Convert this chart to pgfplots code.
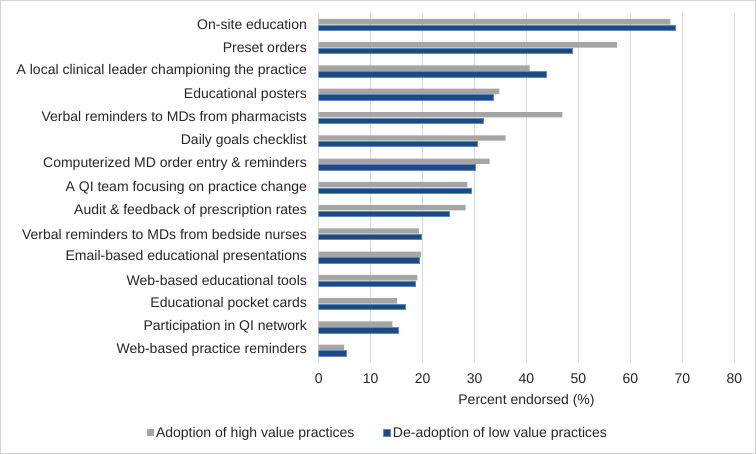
\documentclass[border=0pt]{standalone}
\usepackage{fontspec}
\setmainfont{Liberation Sans}
\usepackage{pgfplots}
\usepackage{pgfplotstable}
\pgfplotsset{compat=1.18}
\definecolor{greybar}{HTML}{A5A5A5}
\definecolor{bluebar}{HTML}{1F4A7E}
\definecolor{blueedge}{HTML}{5A8AC6}
\definecolor{gridc}{HTML}{D9D9D9}
\pgfplotstableread{
idx high low
0 67.7 68.6
1 57.4 48.8
2 40.6 43.8
3 34.8 33.6
4 46.9 31.7
5 36.0 30.6
6 32.9 30.2
7 28.6 29.4
8 28.3 25.2
9 19.3 19.8
10 19.7 19.3
11 19.0 18.6
12 15.1 16.7
13 14.2 15.4
14 4.9 5.4
}\data
\begin{document}
\begin{tikzpicture}
\begin{axis}[
  name=ax,
  scale only axis,
  width=415.6bp, height=349bp,
  xbar, bar width=5.4bp,
  xmin=0, xmax=80,
  ymin=-0.5, ymax=14.5,
  y dir=reverse,
  xtick={0,10,...,80},
  ytick={0,...,14},
  yticklabels={On-site education,Preset orders,A local clinical leader championing the practice,Educational posters,Verbal reminders to MDs from pharmacists,Daily goals checklist,Computerized MD order entry \& reminders,A QI team focusing on practice change,Audit \& feedback of prescription rates,Verbal reminders to MDs from bedside nurses,Email-based educational presentations,Web-based educational tools,Educational pocket cards,Participation in QI network,Web-based practice reminders},
  /pgf/number format/assume math mode=true,
  tick style={draw=none},
  axis line style={draw=none},
  xmajorgrids, major grid style={gridc, line width=0.8bp},
  every tick label/.append style={font=\fontsize{14bp}{16.8bp}\selectfont, text=black!85},
  yticklabel style={xshift=-4bp},
  xticklabel style={yshift=-8bp},
  xlabel={Percent endorsed (\%)},
  xlabel style={font=\fontsize{14bp}{16.8bp}\selectfont, text=black!85, at={(axis description cs:0.5,-0.112)}, anchor=center},
  legend style={font=\fontsize{14bp}{16.8bp}\selectfont, text=black!85, draw=none, legend columns=2,
    at={(axis description cs:0.1427,-0.2034)}, anchor=center,
    /tikz/every even column/.append style={column sep=26bp},
    nodes={inner xsep=2.5bp}},
  legend image code/.code={\fill[#1] (0bp,-3.5bp) rectangle (7bp,3.5bp);},
]
\addplot[fill=greybar, draw=none, bar shift=3bp] table[x=high, y=idx] {\data};
\addplot[fill=bluebar, draw=blueedge, line width=0.5bp, bar shift=-3bp] table[x=low, y=idx] {\data};
\legend{Adoption of high value practices, De-adoption of low value practices}
\end{axis}
\path[use as bounding box] ([shift={(-318.7bp,-92bp)}]ax.south west) rectangle ([shift={(437.3bp,362bp)}]ax.south west);
\draw[gray!35, line width=0.8bp] ([shift={(-318.0bp,-91.4bp)}]ax.south west) rectangle ([shift={(436.6bp,361.4bp)}]ax.south west);
\end{tikzpicture}
\end{document}
